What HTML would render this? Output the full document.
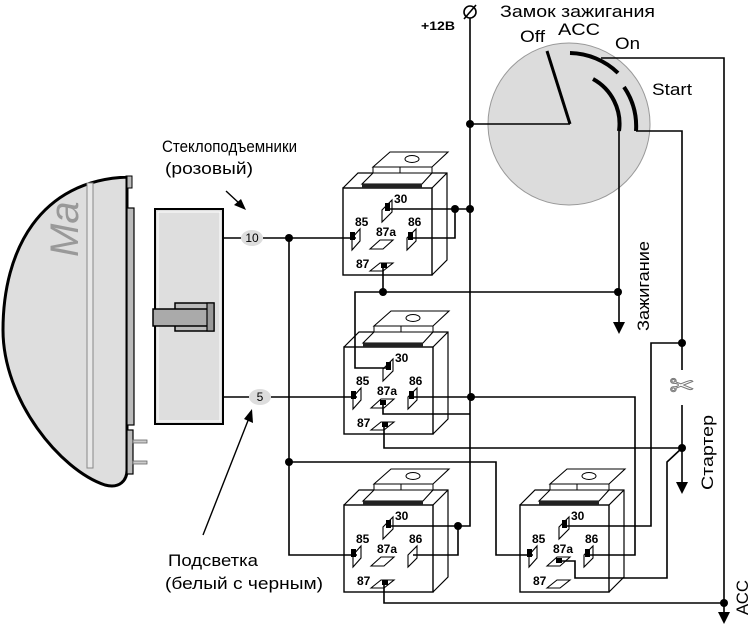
<!DOCTYPE html>
<html><head><meta charset="utf-8"><style>
html,body{margin:0;padding:0;background:#fff;}
svg{display:block;font-family:"Liberation Sans",sans-serif;}
.w{fill:none;stroke:#000;stroke-width:1.6;}
.t{font-weight:bold;font-size:12px;fill:#000;}
</style></head><body>
<svg width="750" height="628" viewBox="0 0 750 628" xmlns="http://www.w3.org/2000/svg">
<defs>
<g id="relay">
  <polyline points="0,0 15,-15 104,-15 104,72 89,87" fill="none" stroke="#000" stroke-width="1.2"/>
  <line x1="89" y1="0" x2="104" y2="-15" stroke="#000" stroke-width="1.2"/>
  <rect x="0" y="0" width="89" height="87" fill="#fff" stroke="#000" stroke-width="1.4"/>
  <polygon points="30,-21 47,-36 105,-36 89,-21" fill="#fff" stroke="#000" stroke-width="1.1"/>
  <rect x="30" y="-21" width="59" height="6" fill="#fff" stroke="#000" stroke-width="1"/>
  <line x1="57" y1="-21" x2="57" y2="-15" stroke="#000"/>
  <polygon points="19,-4 30,-15 89,-15 79,-4" fill="#fff" stroke="#000" stroke-width="1.1"/>
  <rect x="19" y="-4" width="60" height="4" fill="#222"/>
  <ellipse cx="69" cy="-29" rx="7" ry="3.5" fill="#fff" stroke="#000"/>
  <polygon points="39,22 49,12 49,24 39,34" fill="#fff" stroke="#000" stroke-width="1.1"/>
  <polygon points="9,50 17,41 17,53 9,62" fill="#fff" stroke="#000" stroke-width="1.1"/>
  <polygon points="64,50 73,41 73,53 64,62" fill="#fff" stroke="#000" stroke-width="1.1"/>
  <polygon points="27,61 37,52 50,52 40,61" fill="#fff" stroke="#000" stroke-width="1.1"/>
  <polygon points="27,83 37,75 50,75 40,83" fill="#fff" stroke="#000" stroke-width="1.1"/>
</g>
</defs>

<!-- module -->
<path d="M128,177 C40,180 3,250 3,330 C3,400 60,470 105,485 C120,489 127,480 127,470 L127,177 Z" fill="#dedede" stroke="#000" stroke-width="3"/>
<rect x="87" y="183" width="6" height="285" fill="#e8e8e8" stroke="#888" stroke-width="1"/>
<rect x="127" y="176" width="5" height="12" fill="#bbb" stroke="#000" stroke-width="1"/>
<rect x="127" y="208" width="7" height="217" fill="#bbb" stroke="#000" stroke-width="1.2"/>
<rect x="127" y="430" width="6" height="44" fill="#bbb" stroke="#000" stroke-width="1.2"/>
<rect x="133" y="440" width="14" height="3" fill="#ccc" stroke="#666" stroke-width="0.8"/>
<rect x="133" y="461" width="14" height="3" fill="#ccc" stroke="#666" stroke-width="0.8"/>
<text transform="translate(78,257) rotate(-90)" font-size="40" font-style="italic" fill="#999">Ma</text>

<!-- connector -->
<rect x="155" y="209" width="68" height="215" fill="#dedede" stroke="#000" stroke-width="2"/>
<rect x="158" y="212" width="62" height="209" fill="none" stroke="#fff" stroke-width="1"/>
<rect x="175" y="303" width="39" height="28" fill="#bbb" stroke="#000" stroke-width="1.5"/>
<rect x="153" y="309" width="55" height="17" fill="#aaa" stroke="#000" stroke-width="1.5"/>
<rect x="207" y="303" width="7" height="28" fill="#999" stroke="#000" stroke-width="1.2"/>

<!-- labels left -->
<text x="162" y="152" font-size="16.5" textLength="135" lengthAdjust="spacingAndGlyphs">Стеклоподъемники</text>
<text x="165" y="174" font-size="16.5" textLength="88" lengthAdjust="spacingAndGlyphs">(розовый)</text>
<line x1="226" y1="191" x2="240" y2="204" stroke="#000" stroke-width="1.4"/>
<polygon points="246,210 234,205 241,199" fill="#000"/>
<text x="168" y="566" font-size="16.5" textLength="90" lengthAdjust="spacingAndGlyphs">Подсветка</text>
<text x="165" y="589" font-size="16.5" textLength="158" lengthAdjust="spacingAndGlyphs">(белый с черным)</text>
<line x1="203" y1="535" x2="249" y2="418" stroke="#000" stroke-width="1.4"/>
<polygon points="252,409 253,423 244,419" fill="#000"/>

<!-- relays -->
<use href="#relay" x="343" y="188"/>
<use href="#relay" x="344" y="347"/>
<use href="#relay" x="344" y="505"/>
<use href="#relay" x="520" y="505"/>

<g class="t">
<text x="394" y="203">30</text><text x="355" y="226">85</text><text x="408" y="226">86</text><text x="376" y="236">87a</text><text x="356" y="268">87</text>
<text x="395" y="362">30</text><text x="356" y="385">85</text><text x="409" y="385">86</text><text x="377" y="395">87a</text><text x="357" y="427">87</text>
<text x="395" y="520">30</text><text x="356" y="543">85</text><text x="409" y="543">86</text><text x="377" y="553">87a</text><text x="357" y="585">87</text>
<text x="571" y="520">30</text><text x="532" y="543">85</text><text x="585" y="543">86</text><text x="553" y="553">87a</text><text x="533" y="585">87</text>
</g>
<g fill="#000">
<rect x="385" y="203" width="5" height="8"/><rect x="350" y="232" width="5" height="8"/><rect x="408" y="232" width="5" height="8"/><rect x="381" y="263" width="6" height="5"/>
<rect x="386" y="362" width="5" height="8"/><rect x="351" y="391" width="5" height="8"/><rect x="409" y="391" width="5" height="8"/><rect x="380" y="400" width="6" height="5"/><rect x="382" y="422" width="6" height="5"/>
<rect x="386" y="520" width="5" height="8"/><rect x="351" y="549" width="5" height="8"/><rect x="382" y="580" width="6" height="5"/>
<rect x="562" y="520" width="5" height="8"/><rect x="527" y="549" width="5" height="8"/><rect x="585" y="549" width="5" height="8"/><rect x="556" y="558" width="6" height="5"/>
</g>

<!-- pins -->
<line x1="223" y1="238" x2="241" y2="238" class="w"/>
<ellipse cx="252" cy="238" rx="11" ry="8" fill="#ddd"/>
<text x="252" y="242" font-size="12" text-anchor="middle">10</text>
<line x1="223" y1="397" x2="249" y2="397" class="w"/>
<ellipse cx="260" cy="397" rx="11" ry="8" fill="#ddd"/>
<text x="260" y="401" font-size="12" text-anchor="middle">5</text>

<!-- ignition switch -->
<circle cx="569" cy="124" r="81" fill="#dcdcdc" stroke="#999" stroke-width="1"/>
<text x="500" y="17" font-size="17" textLength="155" lengthAdjust="spacingAndGlyphs">Замок зажигания</text>
<text x="520" y="42" font-size="17" textLength="25" lengthAdjust="spacingAndGlyphs">Off</text>
<text x="558" y="35" font-size="17" textLength="42" lengthAdjust="spacingAndGlyphs">ACC</text>
<text x="615" y="49" font-size="17" textLength="25" lengthAdjust="spacingAndGlyphs">On</text>
<text x="652" y="95" font-size="17" textLength="40" lengthAdjust="spacingAndGlyphs">Start</text>
<text x="421" y="30" font-size="12" font-weight="bold" textLength="34" lengthAdjust="spacingAndGlyphs">+12B</text>
<line x1="570" y1="124" x2="547" y2="51" stroke="#000" stroke-width="3"/>
<path d="M570,53 A71,71 0 0 1 618,73" fill="none" stroke="#000" stroke-width="4"/>
<path d="M624,87 A70,70 0 0 1 636,131" fill="none" stroke="#000" stroke-width="4"/>
<path d="M593,79 A51,51 0 0 1 619,131" fill="none" stroke="#000" stroke-width="4"/>

<!-- wires -->
<g class="w">
<circle cx="470" cy="12" r="6"/><line x1="464" y1="19" x2="476" y2="5"/>
<polyline points="470,18 470,526 389,526"/>
<line x1="470" y1="124" x2="570" y2="124"/>
<line x1="263" y1="238" x2="356" y2="238"/>
<polyline points="289,238 289,555 357,555"/>
<polyline points="289,462 496,462 496,555 533,555"/>
<line x1="271" y1="397" x2="357" y2="397"/>
<line x1="388" y1="209" x2="470" y2="209"/>
<polyline points="412,238 455,238 455,209"/>
<line x1="383" y1="266" x2="383" y2="292"/>
<polyline points="389,368 355,368 355,292 618,292"/>
<line x1="619" y1="131" x2="619" y2="322"/>
<polyline points="413,397 635,397 635,555 589,555"/>
<polyline points="383,401 383,414 470,414"/>
<polyline points="384,424 384,448 682,448"/>
<polyline points="636,131 682,131 682,370"/>
<line x1="682" y1="405" x2="682" y2="482"/>
<polyline points="682,343 651,343 651,526 565,526"/>
<polyline points="682,448 667,462 667,578 575,578 575,561 559,561"/>
<polyline points="458,526 458,555 413,555"/>
<polyline points="601,58 724,58 724,612"/>
<polyline points="384,583 384,603 724,603"/>
</g>
<g fill="#000">
<circle cx="289" cy="238" r="4"/><circle cx="289" cy="462" r="4"/>
<circle cx="455" cy="209" r="4"/><circle cx="470" cy="209" r="4"/>
<circle cx="470" cy="124" r="4"/><circle cx="383" cy="292" r="4"/>
<circle cx="618" cy="292" r="4"/><circle cx="471" cy="397" r="4"/>
<circle cx="682" cy="343" r="4"/><circle cx="682" cy="448" r="4"/>
<circle cx="458" cy="526" r="4"/><circle cx="724" cy="603" r="4"/>
<polygon points="613,322 625,322 619,334"/>
<polygon points="676,482 688,482 682,494"/>
<polygon points="718,612 730,612 724,624"/>
</g>
<text x="682" y="396" font-size="30" text-anchor="middle" fill="none" stroke="#777" stroke-width="1" font-family="DejaVu Sans">✂</text>

<text transform="translate(649,331) rotate(-90)" font-size="17" textLength="90" lengthAdjust="spacingAndGlyphs">Зажигание</text>
<text transform="translate(713,490) rotate(-90)" font-size="17" textLength="75" lengthAdjust="spacingAndGlyphs">Стартер</text>
<text transform="translate(748,615) rotate(-90)" font-size="17" textLength="35" lengthAdjust="spacingAndGlyphs">АСС</text>
</svg>
</body></html>
